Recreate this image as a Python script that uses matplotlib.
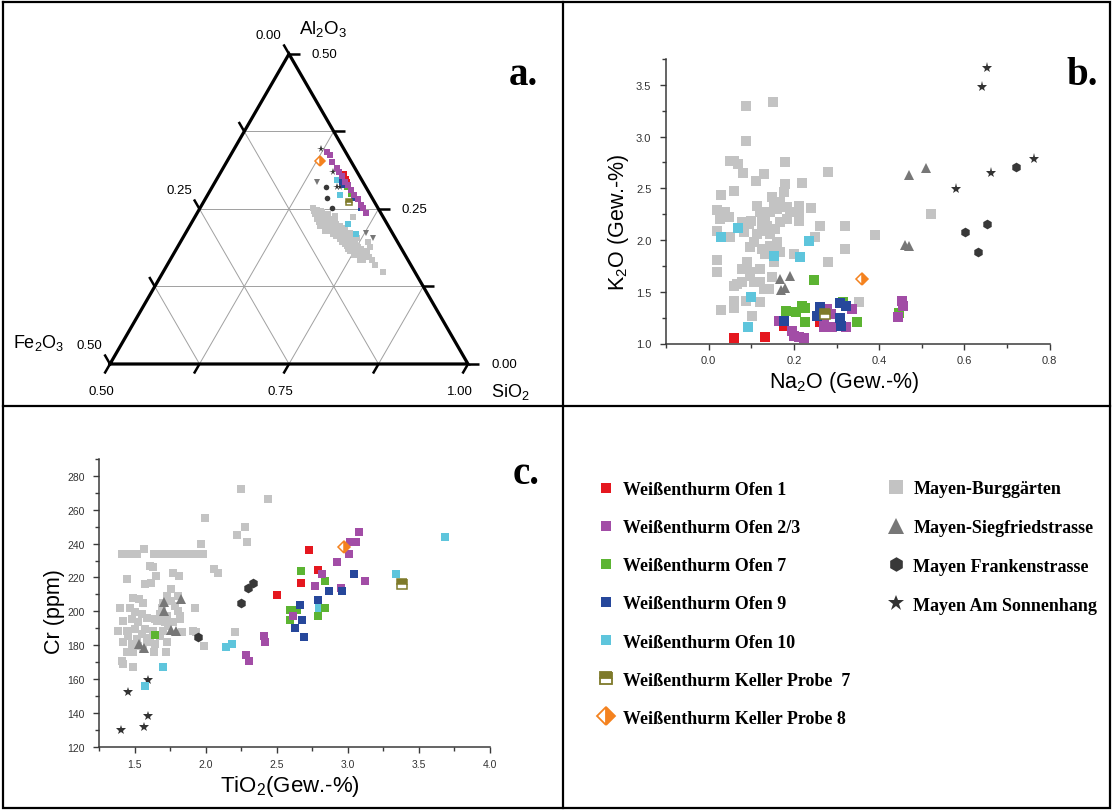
import numpy as np
import matplotlib.pyplot as plt
from matplotlib.lines import Line2D

plt.rcParams['font.family'] = ['Liberation Sans', 'DejaVu Sans']
plt.rcParams['mathtext.default'] = 'regular'

# ---------------- data ----------------
# panel a: ternary SiO2-Al2O3-Fe2O3 (fractions), SiO2 = 1 - Al2O3 - Fe2O3
a_burg_al = [0.251, 0.249, 0.247, 0.242, 0.239, 0.240, 0.237, 0.234, 0.231, 0.230, 0.234, 0.231, 0.224, 0.223,
             0.220, 0.226, 0.218, 0.213, 0.215, 0.215, 0.210, 0.212, 0.206, 0.204, 0.207, 0.199, 0.197, 0.202,
             0.192, 0.195, 0.186, 0.188, 0.186, 0.180, 0.177, 0.183, 0.175, 0.170, 0.188, 0.167, 0.197, 0.235,
             0.242, 0.239, 0.223, 0.220, 0.212, 0.223, 0.191, 0.204, 0.148, 0.174, 0.176, 0.237,
             0.247, 0.245, 0.237, 0.231, 0.227, 0.227, 0.219, 0.222, 0.210, 0.212, 0.218, 0.202, 0.207, 0.202,
             0.194, 0.188, 0.191, 0.183, 0.186, 0.175, 0.177, 0.183, 0.167, 0.172, 0.234, 0.229, 0.215, 0.183,
             0.167, 0.159]
a_burg_fe = [0.091, 0.087, 0.082, 0.093, 0.088, 0.082, 0.079, 0.094, 0.089, 0.084, 0.076, 0.073, 0.082, 0.088,
             0.079, 0.071, 0.072, 0.081, 0.069, 0.085, 0.074, 0.066, 0.081, 0.072, 0.064, 0.070, 0.078, 0.062,
             0.069, 0.060, 0.067, 0.059, 0.074, 0.061, 0.069, 0.055, 0.054, 0.063, 0.043, 0.051, 0.041, 0.085,
             0.074, 0.066, 0.067, 0.062, 0.059, 0.095, 0.074, 0.053, 0.045, 0.061, 0.071, 0.042,
             0.091, 0.081, 0.091, 0.082, 0.089, 0.077, 0.087, 0.075, 0.084, 0.075, 0.065, 0.078, 0.068, 0.064,
             0.075, 0.068, 0.060, 0.066, 0.056, 0.066, 0.055, 0.049, 0.063, 0.052, 0.069, 0.093, 0.092, 0.073,
             0.068, 0.051]
a_sieg_al = [0.293, 0.212, 0.204]
a_sieg_fe = [0.064, 0.037, 0.031]
a_frank_al = [0.285, 0.267, 0.251]
a_frank_fe = [0.056, 0.063, 0.064]
a_sonn_al = [0.346, 0.309, 0.285, 0.285]
a_sonn_fe = [0.032, 0.034, 0.040, 0.036]
a_ofen1_al = [0.306, 0.298, 0.293]
a_ofen1_fe = [0.020, 0.021, 0.022]
a_ofen23_al = [0.342, 0.337, 0.325, 0.316, 0.309, 0.303, 0.294, 0.288, 0.281, 0.273, 0.266, 0.256, 0.251, 0.244]
a_ofen23_fe = [0.026, 0.024, 0.028, 0.025, 0.025, 0.025, 0.025, 0.023, 0.023, 0.023, 0.021, 0.022, 0.021, 0.020]
a_ofen7_al = [0.285, 0.274]
a_ofen7_fe = [0.027, 0.027]
a_ofen9_al = [0.293, 0.288, 0.267, 0.251]
a_ofen9_fe = [0.030, 0.029, 0.026, 0.024]
a_ofen10_al = [0.296, 0.273, 0.226, 0.210]
a_ofen10_fe = [0.035, 0.042, 0.054, 0.052]
a_k7_al, a_k7_fe = [0.261], [0.036]
a_k8_al, a_k8_fe = [0.328], [0.043]

# panel b: Na2O vs K2O (Gew.-%)
b_burg_na = [0.150, 0.088, 0.088, 0.049, 0.060, 0.068, 0.080, 0.180, 0.110, 0.129, 0.180, 0.219, 0.280, 0.059,
             0.029, 0.020, 0.039, 0.027, 0.047, 0.020, 0.049, 0.078, 0.094, 0.082, 0.099, 0.113, 0.121, 0.133,
             0.125, 0.137, 0.149, 0.153, 0.145, 0.160, 0.168, 0.176, 0.184, 0.192, 0.211, 0.211, 0.211, 0.239,
             0.261, 0.321, 0.250, 0.321, 0.280, 0.200, 0.184, 0.168, 0.156, 0.145, 0.125, 0.113, 0.106, 0.098,
             0.125, 0.145, 0.133, 0.160, 0.168, 0.153, 0.149, 0.121, 0.121, 0.106, 0.129, 0.141, 0.090, 0.078,
             0.098, 0.098, 0.078, 0.067, 0.059, 0.020, 0.020, 0.059, 0.088, 0.121, 0.102, 0.059, 0.029, 0.352,
             0.390, 0.522]
b_burg_k = [3.330, 3.291, 2.960, 2.767, 2.767, 2.734, 2.647, 2.750, 2.573, 2.638, 2.541, 2.551, 2.660, 2.477,
            2.435, 2.293, 2.267, 2.203, 2.219, 2.090, 2.026, 2.171, 2.155, 2.074, 2.187, 2.332, 2.267, 2.235,
            2.171, 2.138, 2.412, 2.332, 2.267, 2.300, 2.364, 2.461, 2.316, 2.267, 2.332, 2.267, 2.187, 2.306,
            2.138, 2.138, 2.026, 1.913, 1.791, 1.865, 2.203, 2.171, 2.106, 2.058, 2.090, 2.058, 1.977, 1.929,
            1.913, 1.945, 1.865, 1.977, 1.881, 1.784, 1.639, 1.720, 1.591, 1.591, 1.527, 1.527, 1.784, 1.720,
            1.688, 1.655, 1.591, 1.575, 1.559, 1.810, 1.694, 1.414, 1.414, 1.398, 1.269, 1.340, 1.324, 1.398,
            2.052, 2.251]
b_sieg_na = [0.168, 0.190, 0.170, 0.180, 0.471, 0.511, 0.460, 0.471]
b_sieg_k = [1.623, 1.655, 1.520, 1.533, 2.628, 2.693, 1.952, 1.939]
b_frank_na = [0.722, 0.652, 0.602, 0.631]
b_frank_k = [2.702, 2.155, 2.080, 1.881]
b_sonn_na = [0.652, 0.642, 0.763, 0.663, 0.581]
b_sonn_k = [3.659, 3.475, 2.783, 2.644, 2.493]
b_ofen1_na = [0.060, 0.133, 0.176, 0.262]
b_ofen1_k = [1.053, 1.060, 1.166, 1.205]
b_ofen23_na = [0.164, 0.196, 0.200, 0.211, 0.223, 0.270, 0.278, 0.290, 0.270, 0.336, 0.322, 0.286, 0.454, 0.456, 0.444]
b_ofen23_k = [1.221, 1.124, 1.076, 1.060, 1.050, 1.253, 1.333, 1.156, 1.156, 1.333, 1.156, 1.285, 1.408, 1.359, 1.253]
b_ofen7_na = [0.182, 0.206, 0.219, 0.225, 0.225, 0.248, 0.315, 0.347, 0.446]
b_ofen7_k = [1.317, 1.301, 1.366, 1.340, 1.205, 1.614, 1.398, 1.211, 1.292]
b_ofen9_na = [0.176, 0.262, 0.254, 0.309, 0.322, 0.309, 0.311]
b_ofen9_k = [1.221, 1.349, 1.269, 1.391, 1.366, 1.243, 1.166]
b_ofen10_na = [0.029, 0.070, 0.153, 0.214, 0.236, 0.099, 0.092]
b_ofen10_k = [2.026, 2.113, 1.842, 1.833, 1.994, 1.446, 1.163]
b_k7_na, b_k7_k = [0.272], [1.285]
b_k8_na, b_k8_k = [0.360], [1.623]

# panel c: TiO2 (Gew.-%) vs Cr (ppm)
c_burg_ti = [1.566, 2.249, 2.438, 1.991, 2.274, 2.216, 2.291, 1.965,
             1.407, 1.442, 1.477, 1.513, 1.634, 1.670, 1.705, 1.740, 1.775, 1.810, 1.852, 1.888, 1.923, 1.981,
             1.606, 1.625, 1.646, 1.442, 1.571, 1.611, 1.766, 1.813, 2.056, 2.087, 1.752, 1.728, 1.695, 1.489,
             1.531, 1.559, 1.752, 1.782, 1.688, 1.806, 1.677, 1.724, 1.817, 1.395, 1.466, 1.923, 1.501, 1.548,
             1.419, 1.477, 1.583, 1.641, 1.524, 1.712, 1.770, 1.817, 1.384, 1.442, 1.501, 1.571, 1.630, 1.700,
             1.735, 1.548, 1.454, 1.513, 1.606, 1.677, 1.419, 1.477, 1.524, 1.583, 1.641, 1.724, 1.829, 1.911,
             1.930, 2.204, 1.442, 1.489, 1.559, 1.634, 1.719, 1.986, 1.407, 1.414, 1.484, 1.806, 1.653]
c_burg_cr = [236.6, 272.0, 266.1, 254.9, 250.0, 245.1, 241.2, 240.0,
             233.7, 233.7, 233.7, 233.7, 233.7, 233.7, 233.7, 233.7, 233.7, 233.7, 233.7, 233.7, 233.7, 233.7,
             226.8, 226.2, 220.9, 218.9, 216.0, 217.0, 222.9, 220.9, 225.2, 222.9, 213.0, 209.1, 205.2, 208.1,
             207.1, 205.2, 206.2, 203.2, 202.2, 200.3, 198.3, 197.3, 197.3, 202.2, 202.2, 202.2, 199.3, 198.3,
             194.4, 195.3, 196.3, 195.3, 193.4, 193.4, 193.4, 195.3, 188.5, 188.5, 189.4, 189.4, 188.5, 188.5,
             191.4, 186.5, 185.5, 183.5, 184.5, 185.5, 181.6, 180.6, 179.6, 181.6, 180.6, 182.0, 187.5, 188.5,
             187.9, 187.9, 176.1, 176.1, 177.6, 176.1, 176.1, 179.6, 170.8, 168.8, 166.8, 209.1, 194.4]
c_sieg_ti = [1.705, 1.822, 1.705, 1.531, 1.564, 1.752, 1.789]
c_sieg_cr = [205.6, 207.1, 200.3, 180.6, 178.2, 188.8, 188.5]
c_frank_ti = [1.942, 2.244, 2.298, 2.333]
c_frank_cr = [185.1, 205.2, 214.0, 217.0]
c_sonn_ti = [1.595, 1.454, 1.595, 1.566, 1.400]
c_sonn_cr = [159.3, 152.1, 138.3, 131.4, 130.1]
c_ofen1_ti = [2.725, 2.786, 2.673, 2.498]
c_ofen1_cr = [236.0, 224.2, 217.0, 209.7]
c_ofen23_ti = [3.078, 3.013, 3.055, 3.008, 2.922, 2.818, 2.767, 3.118, 2.950, 2.610, 2.408, 2.415, 2.286, 2.303]
c_ofen23_cr = [247.1, 240.9, 240.9, 234.1, 229.2, 221.9, 215.0, 217.9, 214.0, 197.3, 185.5, 181.9, 174.1, 170.8]
c_ofen7_ti = [1.641, 2.673, 2.837, 2.591, 2.645, 2.595, 2.790, 2.837]
c_ofen7_cr = [185.9, 223.9, 217.9, 200.8, 200.6, 194.9, 197.3, 201.8]
c_ofen9_ti = [3.043, 2.867, 2.961, 2.788, 2.666, 2.680, 2.626, 2.689]
c_ofen9_cr = [222.3, 212.0, 212.0, 206.7, 203.8, 194.9, 189.9, 184.9]
c_ofen10_ti = [1.573, 1.695, 2.145, 2.181, 2.797, 3.336, 3.681]
c_ofen10_cr = [155.6, 166.8, 178.7, 180.6, 201.8, 221.9, 243.9]
c_k7_ti, c_k7_cr = [3.379], [216.0]
c_k8_ti, c_k8_cr = [2.973], [238.0]

legend_left = ['Weißenthurm Ofen 1', 'Weißenthurm Ofen 2/3', 'Weißenthurm Ofen 7', 'Weißenthurm Ofen 9',
               'Weißenthurm Ofen 10', 'Weißenthurm Keller Probe  7', 'Weißenthurm Keller Probe 8']
legend_right = ['Mayen-Burggärten', 'Mayen-Siegfriedstrasse', 'Mayen Frankenstrasse', 'Mayen Am Sonnenhang']

# ---------------- styles ----------------
RED, MAG, GRN, BLU, CYA = '#E5171F', '#A24DA6', '#5CB432', '#26479B', '#5EC5DC'
OLV, ORG = '#7E7A2A', '#F4821F'
LGRAY, MGRAY, DGRAY, STAR = '#C3C3C3', '#777777', '#383838', '#333333'

sty = {
    'ofen1': dict(marker='s', color=RED),
    'ofen23': dict(marker='s', color=MAG),
    'ofen7': dict(marker='s', color=GRN),
    'ofen9': dict(marker='s', color=BLU),
    'ofen10': dict(marker='s', color=CYA),
    'k7': dict(marker='s', color=OLV, fillstyle='top', markerfacecoloralt='white', mec=OLV),
    'k8': dict(marker='D', color=ORG, fillstyle='right', markerfacecoloralt='white', mec=ORG),
    'burg': dict(marker='s', color=LGRAY),
    'sieg': dict(marker='^', color=MGRAY),
    'frank': dict(marker='h', color=DGRAY),
    'sonn': dict(marker='*', color=STAR),
}


def draw(ax, x, y, key, ms, **kw):
    st = dict(sty[key])
    st.update(kw)
    mew = 1.1 if key in ('k7', 'k8') else 0
    ax.plot(x, y, linestyle='none', ms=ms, mew=mew, clip_on=False, **st)


W, H = 1113, 812
fig = plt.figure(figsize=(W / 100, H / 100), dpi=100)


def rect(x0, y0, x1, y1):
    return [x0 / W, 1 - y1 / H, (x1 - x0) / W, (y1 - y0) / H]


# ---------------- panel a: ternary ----------------
h = np.sqrt(3) / 2
S = 358.0  # pixels per unit of triangle side
axa = fig.add_axes(rect(10, 10, 558, 402))
axa.set_xlim(-100 / S, 448 / S)
axa.set_ylim(-37 / S, 355 / S)
axa.axis('off')


def tern(al, fe):
    al = np.asarray(al)
    fe = np.asarray(fe)
    return 1 - 2 * fe - al, al * 2 * h


for k in (1, 2, 3):
    t = k / 4
    axa.plot([t / 2, 1 - t / 2], [t * h, t * h], color='#a0a0a0', lw=0.7)
    axa.plot([t, t + (1 - t) / 2], [0, (1 - t) * h], color='#a0a0a0', lw=0.7)
    axa.plot([1 - t, (1 - t) / 2], [0, (1 - t) * h], color='#a0a0a0', lw=0.7)
axa.plot([0, 1, 0.5, 0], [0, 0, h, 0], color='black', lw=2.3, solid_joinstyle='miter')

L = 11 / S
tfs = 9.5
for k in range(5):
    t = k / 4
    # bottom (SiO2)
    bx, by = t, 0
    axa.plot([bx, bx - 0.5 * L], [by, by - h * L], color='black', lw=1.8, solid_capstyle='butt')
    # right (Al2O3)
    rx, ry = 1 - t / 2, t * h
    axa.plot([rx, rx + L], [ry, ry], color='black', lw=1.8, solid_capstyle='butt')
    # left (Fe2O3)
    lx, ly = (1 - t) / 2, (1 - t) * h
    axa.plot([lx, lx - 0.5 * L], [ly, ly + h * L], color='black', lw=1.8, solid_capstyle='butt')
    if k % 2 == 0:
        axa.text(bx - 0.5 * L - 3 / S, by - h * L - 11 / S, '%.2f' % (0.5 + t / 2), fontsize=tfs,
                 ha='center', va='top')
        axa.text(rx + L + 12 / S, ry, '%.2f' % (t / 2), fontsize=tfs, ha='left', va='center')
        axa.text(lx - 0.5 * L - 2 / S, ly + h * L + 3 / S, '%.2f' % (t / 2), fontsize=tfs,
                 ha='right', va='bottom')

axa.text(0.5 + 34 / S, h + 26 / S, 'Al$_2$O$_3$', fontsize=13.5, ha='center', va='center')
axa.text(-71 / S, 22 / S, 'Fe$_2$O$_3$', fontsize=13, ha='center', va='center')
axa.text(1 + 42 / S, -27 / S, 'SiO$_2$', fontsize=13, ha='center', va='center')

draw(axa, *tern(a_burg_al, a_burg_fe), 'burg', 4.0)
draw(axa, *tern(a_sieg_al, a_sieg_fe), 'sieg', 5.0, marker='v')
draw(axa, *tern(a_frank_al, a_frank_fe), 'frank', 4.0, marker='o')
draw(axa, *tern(a_sonn_al, a_sonn_fe), 'sonn', 5.5)
draw(axa, *tern(a_ofen10_al, a_ofen10_fe), 'ofen10', 4.2)
draw(axa, *tern(a_ofen7_al, a_ofen7_fe), 'ofen7', 4.2)
draw(axa, *tern(a_ofen1_al, a_ofen1_fe), 'ofen1', 4.2)
draw(axa, *tern(a_ofen9_al, a_ofen9_fe), 'ofen9', 4.2)
draw(axa, *tern(a_ofen23_al, a_ofen23_fe), 'ofen23', 4.4)
draw(axa, *tern(a_k7_al, a_k7_fe), 'k7', 4.6)
draw(axa, *tern(a_k8_al, a_k8_fe), 'k8', 5.0)


def style_xy(ax, fs):
    for s in ('top', 'right'):
        ax.spines[s].set_visible(False)
    for s in ('left', 'bottom'):
        ax.spines[s].set_linewidth(1.1)
        ax.spines[s].set_color('#3a3a3a')
    ax.tick_params(which='both', direction='out', color='#3a3a3a', width=1.0, labelsize=fs,
                   labelcolor='#333333')
    ax.tick_params(which='major', length=4.5)
    ax.tick_params(which='minor', length=3)
    ax.tick_params(axis='y', pad=6)
    ax.tick_params(axis='x', pad=4)


# ---------------- panel b ----------------
axb = fig.add_axes(rect(666, 60, 1049.7, 344.5))
axb.set_xlim(-0.1, 0.8)
axb.set_ylim(1.0, 3.75)
axb.set_xticks([0.0, 0.2, 0.4, 0.6, 0.8])
axb.set_xticks(np.arange(-0.1, 0.81, 0.1), minor=True)
axb.set_yticks([1.0, 1.5, 2.0, 2.5, 3.0, 3.5])
axb.set_yticks(np.arange(1.0, 3.76, 0.25), minor=True)
axb.xaxis.set_major_formatter(plt.FormatStrFormatter('%.1f'))
axb.yaxis.set_major_formatter(plt.FormatStrFormatter('%.1f'))
style_xy(axb, 8)
axb.set_xlabel('Na$_2$O (Gew.-%)', fontsize=15.5)
axb.set_ylabel('K$_2$O (Gew.-%)', fontsize=15.5)
axb.xaxis.set_label_coords(0.466, -0.088)
axb.yaxis.set_label_coords(-0.092, 0.43)

msb = 6.8
draw(axb, b_burg_na, b_burg_k, 'burg', msb)
draw(axb, b_sieg_na, b_sieg_k, 'sieg', 7.5)
draw(axb, b_frank_na, b_frank_k, 'frank', 7.0)
draw(axb, b_sonn_na, b_sonn_k, 'sonn', 8.0)
draw(axb, b_ofen10_na, b_ofen10_k, 'ofen10', msb)
draw(axb, b_ofen7_na, b_ofen7_k, 'ofen7', msb)
draw(axb, b_ofen1_na, b_ofen1_k, 'ofen1', msb)
draw(axb, b_ofen23_na, b_ofen23_k, 'ofen23', msb)
draw(axb, b_ofen9_na, b_ofen9_k, 'ofen9', msb)
draw(axb, b_k7_na, b_k7_k, 'k7', 6.5)
draw(axb, b_k8_na, b_k8_k, 'k8', 6.0)

# ---------------- panel c ----------------
axc = fig.add_axes(rect(99.3, 460, 490, 747.7))
axc.set_xlim(1.25, 4.0)
axc.set_ylim(120, 290)
axc.set_xticks([1.5, 2.0, 2.5, 3.0, 3.5, 4.0])
axc.set_xticks(np.arange(1.25, 4.01, 0.25), minor=True)
axc.set_yticks(np.arange(120, 281, 20))
axc.set_yticks(np.arange(120, 291, 10), minor=True)
axc.xaxis.set_major_formatter(plt.FormatStrFormatter('%.1f'))
style_xy(axc, 7.5)
axc.set_xlabel('TiO$_2$(Gew.-%)', fontsize=16)
axc.set_ylabel('Cr (ppm)', fontsize=15.5)
axc.xaxis.set_label_coords(0.488, -0.092)
axc.yaxis.set_label_coords(-0.088, 0.472)

msc = 6.3
draw(axc, c_burg_ti, c_burg_cr, 'burg', msc)
draw(axc, c_sieg_ti, c_sieg_cr, 'sieg', 7.5)
draw(axc, c_frank_ti, c_frank_cr, 'frank', 7.0)
draw(axc, c_sonn_ti, c_sonn_cr, 'sonn', 7.5)
draw(axc, c_ofen10_ti, c_ofen10_cr, 'ofen10', msc)
draw(axc, c_ofen7_ti, c_ofen7_cr, 'ofen7', msc)
draw(axc, c_ofen1_ti, c_ofen1_cr, 'ofen1', msc)
draw(axc, c_ofen23_ti, c_ofen23_cr, 'ofen23', msc)
draw(axc, c_ofen9_ti, c_ofen9_cr, 'ofen9', msc)
draw(axc, c_k7_ti, c_k7_cr, 'k7', 6.5)
draw(axc, c_k8_ti, c_k8_cr, 'k8', 6.2)

# ---------------- panel labels, legend, frame ----------------
frame = fig.add_axes([0, 0, 1, 1], zorder=-1)
frame.set_xlim(0, W)
frame.set_ylim(H, 0)
frame.axis('off')
lab = dict(family='Liberation Serif', weight='bold', fontsize=28, ha='left', va='baseline')
frame.text(509, 85, 'a.', **lab)
frame.text(1066, 85, 'b.', **lab)
frame.text(513, 484, 'c.', **lab)
for xs, ys in (([3, 1110, 1110, 3, 3], [3, 3, 809, 809, 3]), ([563, 563], [3, 809]), ([3, 1110], [407, 407])):
    frame.plot(xs, ys, color='black', lw=1.6, solid_joinstyle='miter')

lprop = dict(family='Liberation Serif', weight='bold', size=13)
hl = []
for key, ms in (('ofen1', 7), ('ofen23', 7), ('ofen7', 7), ('ofen9', 7), ('ofen10', 7), ('k7', 8.5), ('k8', 9.5)):
    st = dict(sty[key])
    hl.append(Line2D([], [], linestyle='none', ms=ms, mew=1.3 if key in ('k7', 'k8') else 0, **st))
hr = []
for key, ms in (('burg', 10), ('sieg', 11), ('frank', 10.5), ('sonn', 12)):
    hr.append(Line2D([], [], linestyle='none', ms=ms, mew=0, **sty[key]))

leg1 = fig.legend(hl, legend_left, loc='upper left', bbox_to_anchor=(597 / W, 1 - 482 / H), frameon=False,
                  prop=lprop, handlelength=1.0, handletextpad=0.45, labelspacing=1.17, borderpad=0,
                  borderaxespad=0)
leg2 = fig.legend(hr, legend_right, loc='upper left', bbox_to_anchor=(887 / W, 1 - 481 / H), frameon=False,
                  prop=lprop, handlelength=1.0, handletextpad=0.45, labelspacing=1.21, borderpad=0,
                  borderaxespad=0)

fig.savefig('out.png', dpi=100)
